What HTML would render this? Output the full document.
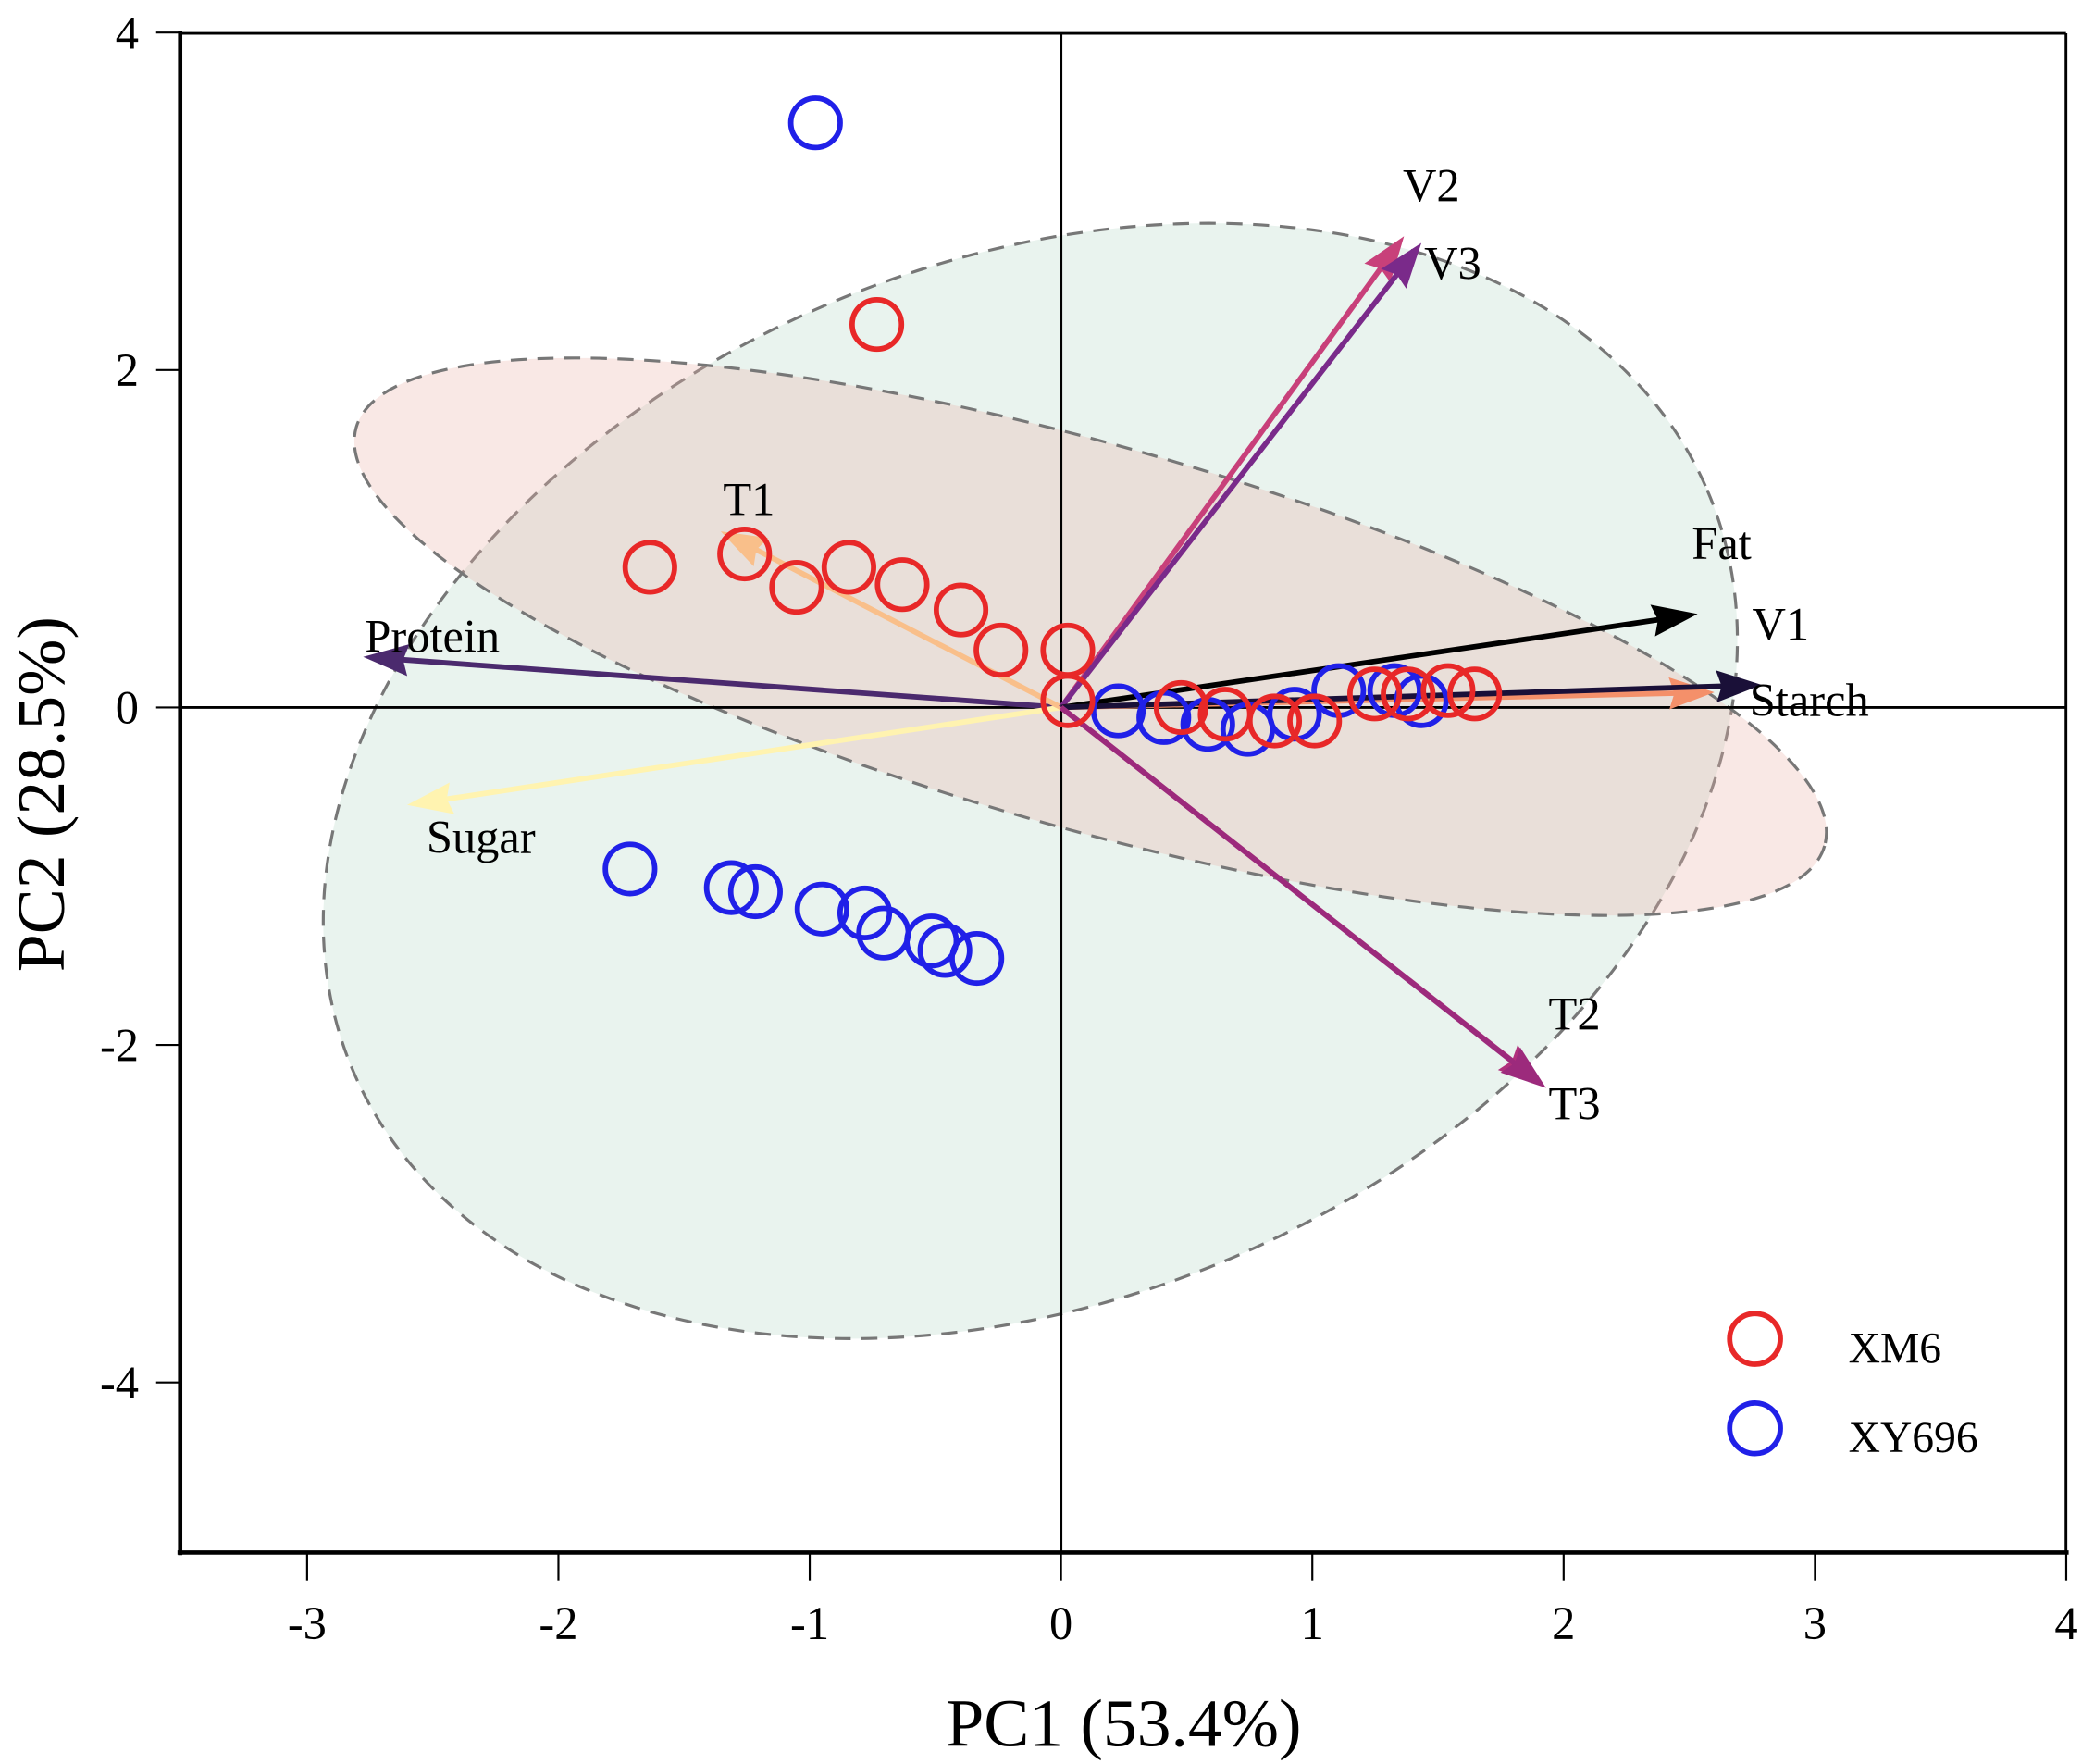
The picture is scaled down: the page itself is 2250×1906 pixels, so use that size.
<!DOCTYPE html>
<html><head><meta charset="utf-8">
<style>
html,body{margin:0;padding:0;background:#fff;}
svg{display:block;}
text{font-family:"Liberation Serif",serif;fill:#000;}
</style></head>
<body>
<svg id="chart" width="2250" height="1906" viewBox="0 0 1560 1321.5" xmlns="http://www.w3.org/2000/svg">
<g id="ellipses"></g>
<g id="axes"></g>
<g id="arrows"></g>
<g id="points"></g>
<g id="legend"></g>
</svg>
<script>
const xTicks = [-3,-2,-1,0,1,2,3,4];
const yTicks = [4,2,0,-2,-4];
const xmX = [-1.636,-1.259,-1.052,-0.844,-0.632,-0.398,-0.239,0.027,0.027,-0.733,0.478,0.653,0.850,1.009,1.248,1.381,1.540,1.646];
const xmY = [0.831,0.910,0.712,0.831,0.728,0.578,0.340,0.340,0.040,2.270,0.000,-0.040,-0.080,-0.080,0.080,0.080,0.100,0.080];
const xyX = [-0.977,-1.715,-1.312,-1.216,-0.951,-0.781,-0.706,-0.515,-0.462,-0.335,0.228,0.409,0.584,0.743,0.929,1.105,1.328,1.434];
const xyY = [3.465,-0.957,-1.068,-1.092,-1.195,-1.218,-1.337,-1.384,-1.440,-1.487,-0.020,-0.060,-0.100,-0.130,-0.040,0.100,0.100,0.040];
const varNames = ["Protein","Sugar","T1","V2","V3","Fat","V1","Starch","T2","T3"];
const varX = [-2.777,-2.602,-1.354,1.365,1.434,2.533,2.600,2.788,1.920,1.930];
const varY = [0.300,-0.578,1.044,2.793,2.753,0.554,0.090,0.134,-2.240,-2.255];
const varColors = ["#4b2a6e","#fff3b0","#f9bf8a","#c8407a","#7a2a8a","#000000","#f4906a","#1a1038","#b0307c","#9c2a7c"];
const labelX = [-2.77,-2.525,-1.345,1.36,1.445,2.51,2.75,2.74,1.94,1.94];
const labelY = [0.29,-0.90,1.10,2.96,2.50,0.84,0.36,-0.09,-1.95,-2.48];

const X0=795, XU=188.3, Y0=530, YU=126.4;
const sx = v => X0 + v*XU;
const sy = v => Y0 - v*YU;
const NS="http://www.w3.org/2000/svg";
function mk(tag, attrs, parent){const e=document.createElementNS(NS,tag);for(const k in attrs)e.setAttribute(k,attrs[k]);parent.appendChild(e);return e;}

const eg=document.getElementById('ellipses');
let e1=mk('ellipse',{cx:772,cy:585,rx:552,ry:388,transform:'rotate(-23.25 772 585)',fill:'#e9f3ee',stroke:'#777',"stroke-width":2.2,"stroke-dasharray":"12 8"},eg);


let e2=mk('ellipse',{cx:817,cy:477,rx:572,ry:143.5,transform:'rotate(15.9 817 477)',fill:'rgba(235,180,170,0.3)',stroke:'#777',"stroke-width":2.2,"stroke-dasharray":"12 8"},eg);



const ag=document.getElementById('axes');
mk('line',{x1:sx(0),y1:25,x2:sx(0),y2:1163,stroke:'#000',"stroke-width":2},ag);
mk('line',{x1:135,y1:sy(0),x2:1548,y2:sy(0),stroke:'#000',"stroke-width":2},ag);
mk('line',{x1:135,y1:25,x2:1548,y2:25,stroke:'#000',"stroke-width":2},ag);
mk('line',{x1:1548,y1:25,x2:1548,y2:1163,stroke:'#000',"stroke-width":2},ag);
let la=mk('line',{x1:135,y1:23,x2:135,y2:1165,stroke:'#000',"stroke-width":3.2},ag);


let ba=mk('line',{x1:133,y1:1163,x2:1550,y2:1163,stroke:'#000',"stroke-width":3.2},ag);


xTicks.forEach(t=>{
  mk('line',{x1:sx(t),y1:1163,x2:sx(t),y2:1184,stroke:'#000',"stroke-width":1.5},ag);
  const tx=mk('text',{x:sx(t),y:1228,"text-anchor":"middle","font-size":35},ag);
  tx.textContent=t;
  
  
});
yTicks.forEach(t=>{
  mk('line',{x1:117,y1:sy(t),x2:135,y2:sy(t),stroke:'#000',"stroke-width":1.5},ag);
  const tx=mk('text',{x:104,y:sy(t)+12,"text-anchor":"end","font-size":35},ag);
  tx.textContent=t;
  
  
});
const xt=mk('text',{x:842,y:1308,"text-anchor":"middle","font-size":51},ag);
xt.textContent="PC1 (53.4%)";


const yt=mk('text',{x:0,y:0,"text-anchor":"middle","font-size":51,transform:'translate(48 595) rotate(-90)'},ag);
yt.textContent="PC2 (28.5%)";



const arg=document.getElementById('arrows');
varNames.forEach((n,i)=>{
  const x1=sx(0),y1=sy(0),x2=sx(varX[i]),y2=sy(varY[i]);
  const dx=x2-x1,dy=y2-y1,L=Math.hypot(dx,dy),ux=dx/L,uy=dy/L;
  const hl=30;
  const bx=x2-ux*hl,by=y2-uy*hl;
  const g=mk('g',{},arg);
  
  
  mk('line',{x1:x1,y1:y1,x2:bx+ux*4,y2:by+uy*4,stroke:varColors[i],"stroke-width":4},g);
  mk('polygon',{points:`${x2},${y2} ${bx-uy*hl*0.4-ux*4},${by+ux*hl*0.4-uy*4} ${bx},${by} ${bx+uy*hl*0.4-ux*4},${by-ux*hl*0.4-uy*4}`,fill:varColors[i]},g);
});
varNames.forEach((n,i)=>{
  const t=mk('text',{x:sx(labelX[i]),y:sy(labelY[i])-5,"font-size":35},arg);
  t.textContent=n;
  
  
});

const pg=document.getElementById('points');
xyX.forEach((v,i)=>{
  const c=mk('circle',{cx:sx(v),cy:sy(xyY[i]),r:18.5,fill:'none',stroke:'#2020e8',"stroke-width":4},pg);
  
  
});
xmX.forEach((v,i)=>{
  const c=mk('circle',{cx:sx(v),cy:sy(xmY[i]),r:18.5,fill:'none',stroke:'#e82828',"stroke-width":4},pg);
  
  
});

const lg=document.getElementById('legend');
[["XM6","#e82828",1003],["XY696","#2020e8",1070]].forEach(([n,c,y])=>{
  const g=mk('g',{},lg);
  
  
  mk('circle',{cx:1315,cy:y,r:19,fill:'none',stroke:c,"stroke-width":4},g);
  const t=mk('text',{x:1385,y:y+18,"font-size":33},g);
  t.textContent=n;
});
</script>
</body></html>
